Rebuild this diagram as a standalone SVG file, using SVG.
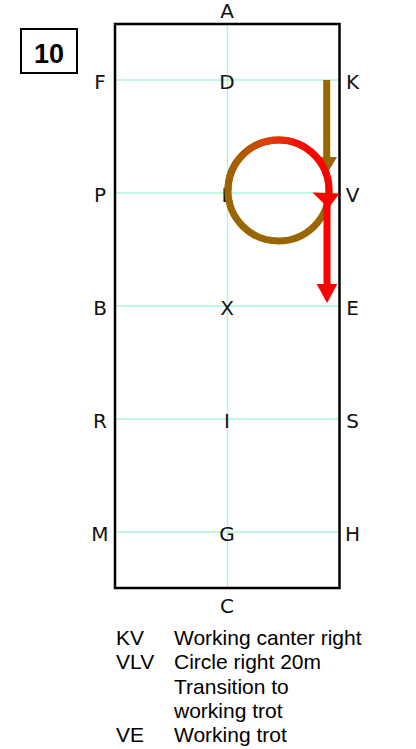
<svg xmlns="http://www.w3.org/2000/svg" width="416" height="749" viewBox="0 0 416 749">
<style>
.grid{stroke:#aaf5d5;stroke-width:1.3;fill:none}
.lbl{font-family:"DejaVu Sans",sans-serif;font-size:20px;fill:#111;text-anchor:middle}
.txt{font-family:"Liberation Sans",Arial,sans-serif;font-size:21px;fill:#000}
.brown{stroke:#996600;stroke-width:7;fill:none}
.red{stroke:#ff0000;stroke-width:7;fill:none}
</style>
<defs>
<linearGradient id="g" gradientUnits="userSpaceOnUse" x1="226" y1="0" x2="308" y2="0">
<stop offset="0" stop-color="#996600"/>
<stop offset="0.2" stop-color="#b05800"/>
<stop offset="0.55" stop-color="#e63a0c"/>
<stop offset="1" stop-color="#ff0000"/>
</linearGradient>
</defs>
<rect width="416" height="749" fill="#fff"/>
<g id="number">
<rect x="21" y="29" width="56" height="44" fill="none" stroke="#000" stroke-width="2"/>
<text x="49" y="63" font-family="Liberation Sans,Arial,sans-serif" font-size="27" font-weight="bold" text-anchor="middle">10</text>
</g>
<g id="arena">
<line class="grid" x1="227.5" y1="24" x2="227.5" y2="588"/>
<line class="grid" x1="115" y1="80" x2="339" y2="80"/>
<line class="grid" x1="115" y1="193" x2="339" y2="193"/>
<line class="grid" x1="115" y1="306" x2="339" y2="306"/>
<line class="grid" x1="115" y1="419" x2="339" y2="419"/>
<line class="grid" x1="115" y1="532" x2="339" y2="532"/>
<rect x="115" y="24" width="224.5" height="564" fill="none" stroke="#000" stroke-width="2.5"/>
</g>
<g id="letters">
<text class="lbl" x="227" y="18">A</text>
<text class="lbl" x="227" y="613">C</text>
<text class="lbl" x="100" y="89">F</text>
<text class="lbl" x="227" y="89">D</text>
<text class="lbl" x="352.5" y="89">K</text>
<text class="lbl" x="100" y="202">P</text>
<text class="lbl" x="227" y="202">L</text>
<text class="lbl" x="352.5" y="202">V</text>
<text class="lbl" x="100" y="315">B</text>
<text class="lbl" x="227" y="315">X</text>
<text class="lbl" x="352.5" y="315">E</text>
<text class="lbl" x="100" y="428">R</text>
<text class="lbl" x="227" y="428">I</text>
<text class="lbl" x="352.5" y="428">S</text>
<text class="lbl" x="100" y="541">M</text>
<text class="lbl" x="227" y="541">G</text>
<text class="lbl" x="352.5" y="541">H</text>
</g>
<g id="connectors">
<line class="brown" x1="326.7" y1="80" x2="326.7" y2="158"/>
<polygon points="317.5,157 337,157 328,172" fill="#996600"/>
<circle class="brown" cx="278.5" cy="190.5" r="50.5"/>
<path d="M228,190.5 A50.5,50.5 0 0 1 329,190.5 A50.5,50.5 0 0 1 328.6,196" stroke="url(#g)" stroke-width="7" fill="none"/>
<line class="red" x1="327" y1="200" x2="327" y2="286"/>
<polygon points="312.5,192.5 339.5,193.5 328.3,208" fill="#ff0000"/>
<polygon points="316.7,284 337.3,284 327,303" fill="#ff0000"/>
</g>
<g id="legend">
<text class="txt" x="116" y="645">KV</text>
<text class="txt" x="174" y="645">Working canter right</text>
<text class="txt" x="116" y="669">VLV</text>
<text class="txt" x="174" y="669">Circle right 20m</text>
<text class="txt" x="174" y="693.5">Transition to</text>
<text class="txt" x="174" y="718">working trot</text>
<text class="txt" x="116" y="742">VE</text>
<text class="txt" x="174" y="742">Working trot</text>
</g>
</svg>
